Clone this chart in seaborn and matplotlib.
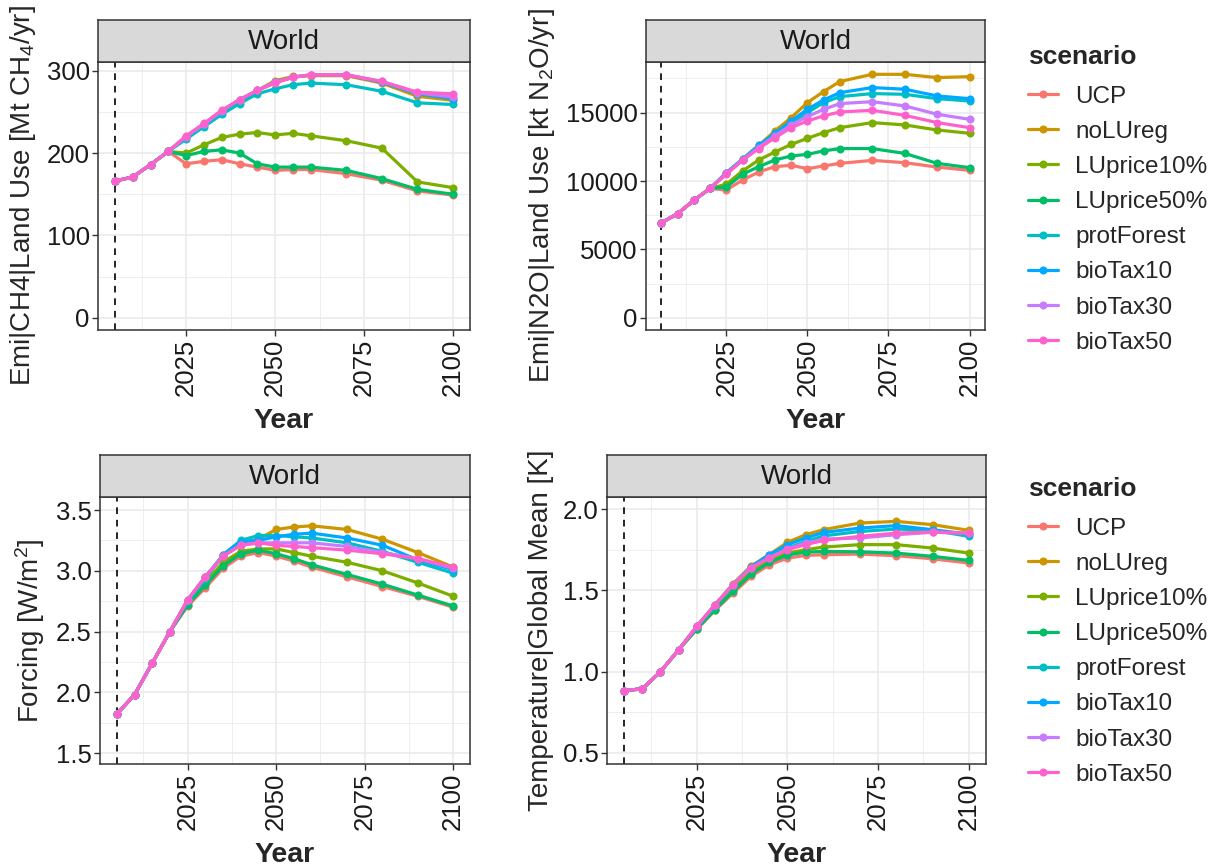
import matplotlib
matplotlib.use('Agg')
import matplotlib.pyplot as plt
import seaborn as sns
import pandas as pd
from matplotlib.lines import Line2D
from matplotlib.ticker import FixedLocator

# ---------------- data ----------------
years = [2005, 2010, 2015, 2020, 2025, 2030, 2035, 2040, 2045, 2050, 2055, 2060, 2070, 2080, 2090, 2100]
scenarios = ["UCP", "noLUreg", "LUprice10%", "LUprice50%", "protForest", "bioTax10", "bioTax30", "bioTax50"]
colors = ["#F8766D", "#CD9600", "#7CAE00", "#00BE67", "#00BFC4", "#00A9FF", "#C77CFF", "#FF61CC"]

ch4 = {
    "UCP":        [166, 171, 186, 202, 187, 190, 192, 187, 183, 179, 180, 180, 175, 167, 154, 149],
    "noLUreg":    [166, 171, 186, 202, 220, 235, 251, 264, 276, 288, 293, 294, 294, 285, 269, 264],
    "LUprice10%": [166, 171, 186, 202, 200, 210, 219, 223, 225, 222, 224, 221, 215, 206, 165, 158],
    "LUprice50%": [166, 171, 186, 202, 197, 202, 204, 200, 187, 183, 183, 183, 179, 169, 156, 150],
    "protForest": [166, 171, 186, 202, 217, 232, 247, 260, 272, 278, 283, 285, 283, 275, 261, 259],
    "bioTax10":   [166, 171, 186, 202, 220, 235, 251, 264, 276, 286, 292, 295, 295, 286, 272, 266],
    "bioTax30":   [166, 171, 186, 202, 220, 235, 251, 265, 276, 286, 292, 295, 295, 287, 273, 268],
    "bioTax50":   [166, 171, 186, 202, 221, 236, 252, 265, 276, 285, 292, 295, 295, 287, 274, 272],
}
n2o = {
    "UCP":        [6950, 7610, 8590, 9460, 9340, 10070, 10660, 11050, 11150, 10900, 11100, 11290, 11510, 11340, 11020, 10780],
    "noLUreg":    [6950, 7610, 8590, 9460, 10600, 11600, 12600, 13660, 14630, 15730, 16540, 17270, 17800, 17800, 17560, 17630],
    "LUprice10%": [6950, 7610, 8590, 9460, 9760, 10730, 11540, 12120, 12680, 13120, 13540, 13900, 14270, 14100, 13730, 13490],
    "LUprice50%": [6950, 7610, 8590, 9460, 9560, 10490, 11050, 11540, 11830, 11950, 12200, 12370, 12370, 12020, 11290, 10980],
    "protForest": [6950, 7610, 8590, 9460, 10550, 11550, 12500, 13400, 14270, 15000, 15730, 16170, 16390, 16340, 16020, 15850],
    "bioTax10":   [6950, 7610, 8590, 9460, 10600, 11600, 12600, 13490, 14390, 15240, 15930, 16460, 16830, 16710, 16220, 16020],
    "bioTax30":   [6950, 7610, 8590, 9460, 10550, 11550, 12450, 13300, 14100, 14710, 15240, 15660, 15800, 15490, 14880, 14510],
    "bioTax50":   [6950, 7610, 8590, 9460, 10490, 11510, 12370, 13170, 13900, 14390, 14760, 15050, 15170, 14800, 14270, 13900],
}
forcing = {
    "UCP":        [1.82, 1.98, 2.24, 2.50, 2.71, 2.86, 3.02, 3.12, 3.15, 3.12, 3.08, 3.03, 2.95, 2.87, 2.79, 2.70],
    "noLUreg":    [1.82, 1.98, 2.24, 2.50, 2.76, 2.95, 3.12, 3.23, 3.26, 3.34, 3.36, 3.37, 3.34, 3.26, 3.15, 3.03],
    "LUprice10%": [1.82, 1.98, 2.24, 2.50, 2.74, 2.90, 3.07, 3.16, 3.18, 3.18, 3.15, 3.12, 3.07, 3.00, 2.90, 2.79],
    "LUprice50%": [1.82, 1.98, 2.24, 2.50, 2.72, 2.88, 3.04, 3.14, 3.17, 3.14, 3.10, 3.05, 2.97, 2.89, 2.80, 2.71],
    "protForest": [1.82, 1.98, 2.24, 2.50, 2.75, 2.93, 3.13, 3.25, 3.29, 3.29, 3.28, 3.27, 3.23, 3.16, 3.07, 2.98],
    "bioTax10":   [1.82, 1.98, 2.24, 2.50, 2.76, 2.95, 3.13, 3.24, 3.25, 3.28, 3.30, 3.31, 3.27, 3.21, 3.09, 3.01],
    "bioTax30":   [1.82, 1.98, 2.24, 2.50, 2.76, 2.95, 3.12, 3.21, 3.23, 3.23, 3.23, 3.23, 3.20, 3.15, 3.10, 3.02],
    "bioTax50":   [1.82, 1.98, 2.24, 2.50, 2.76, 2.95, 3.12, 3.21, 3.23, 3.21, 3.20, 3.19, 3.17, 3.14, 3.10, 3.03],
}
temperature = {
    "UCP":        [0.884, 0.894, 1.00, 1.134, 1.260, 1.376, 1.483, 1.586, 1.657, 1.698, 1.715, 1.719, 1.723, 1.713, 1.694, 1.668],
    "noLUreg":    [0.884, 0.894, 1.00, 1.134, 1.280, 1.410, 1.540, 1.650, 1.720, 1.795, 1.842, 1.873, 1.914, 1.924, 1.904, 1.869],
    "LUprice10%": [0.884, 0.894, 1.00, 1.134, 1.265, 1.385, 1.508, 1.616, 1.688, 1.729, 1.750, 1.766, 1.781, 1.781, 1.760, 1.729],
    "LUprice50%": [0.884, 0.894, 1.00, 1.134, 1.263, 1.380, 1.493, 1.600, 1.672, 1.717, 1.735, 1.739, 1.737, 1.729, 1.709, 1.684],
    "protForest": [0.884, 0.894, 1.00, 1.134, 1.275, 1.405, 1.530, 1.640, 1.710, 1.760, 1.800, 1.835, 1.862, 1.877, 1.869, 1.832],
    "bioTax10":   [0.884, 0.894, 1.00, 1.134, 1.278, 1.410, 1.535, 1.645, 1.719, 1.781, 1.822, 1.856, 1.883, 1.898, 1.873, 1.846],
    "bioTax30":   [0.884, 0.894, 1.00, 1.134, 1.278, 1.410, 1.534, 1.640, 1.700, 1.755, 1.790, 1.815, 1.822, 1.842, 1.857, 1.852],
    "bioTax50":   [0.884, 0.894, 1.00, 1.134, 1.278, 1.411, 1.534, 1.637, 1.698, 1.750, 1.781, 1.807, 1.832, 1.852, 1.859, 1.852],
}

x_ticks = [2025, 2050, 2075, 2100]
x_minor = [2012.5, 2037.5, 2062.5, 2087.5]

# ---------------- style ----------------
sns.set_theme(style="white")
plt.rcParams['font.family'] = ['Liberation Sans', 'DejaVu Sans']
plt.rcParams['mathtext.fontset'] = 'custom'
plt.rcParams['mathtext.rm'] = 'Liberation Sans'
plt.rcParams['mathtext.it'] = 'Liberation Sans:italic'
plt.rcParams['mathtext.bf'] = 'Liberation Sans:bold'

palette = dict(zip(scenarios, colors))
W, H = 1216, 868
fig = plt.figure(figsize=(W / 100, H / 100), dpi=100)


def frac_rect(l, t, r, b):
    return [l / W, 1 - b / H, (r - l) / W, (b - t) / H]


def long_df(d):
    rows = []
    for s in scenarios:
        for y, v in zip(years, d[s]):
            rows.append((s, y, v))
    return pd.DataFrame(rows, columns=["scenario", "Year", "value"])


panels = [
    (ch4, "Emi|CH4|Land Use [Mt CH$_4$/yr]", (98, 62, 470, 330), (-14.8, 310.6),
     [0, 100, 200, 300], [50, 150, 250], None),
    (n2o, "Emi|N2O|Land Use [kt N$_2$O/yr]", (646, 62, 985, 330), (-890, 18700),
     [0, 5000, 10000, 15000], [2500, 7500, 12500, 17500], None),
    (forcing, "Forcing [W/m$^2$]", (100, 497, 470, 764), (1.41, 3.607),
     [1.5, 2.0, 2.5, 3.0, 3.5], [1.75, 2.25, 2.75, 3.25], ["1.5", "2.0", "2.5", "3.0", "3.5"]),
    (temperature, "Temperature|Global Mean [K]", (607, 497, 986, 764), (0.432, 2.074),
     [0.5, 1.0, 1.5, 2.0], [0.75, 1.25, 1.75], ["0.5", "1.0", "1.5", "2.0"]),
]

dark = "#333333"
for data, ylabel, (l, t, r, b), ylim, yt, ym, ytl in panels:
    ax = fig.add_axes(frac_rect(l, t, r, b))
    ax.set_facecolor("white")
    df = long_df(data)
    sns.lineplot(data=df, x="Year", y="value", hue="scenario", hue_order=scenarios,
                 palette=palette, marker="o", markersize=5.8, markeredgewidth=0,
                 linewidth=2.3, errorbar=None, legend=False, ax=ax, zorder=3)
    ax.axvline(2005, color="black", linestyle=(0, (4, 3.5)), linewidth=1.2, zorder=2)
    ax.set_xlim(2000.25, 2104.75)
    ax.set_ylim(*ylim)
    ax.xaxis.set_major_locator(FixedLocator(x_ticks))
    ax.xaxis.set_minor_locator(FixedLocator(x_minor))
    ax.yaxis.set_major_locator(FixedLocator(yt))
    ax.yaxis.set_minor_locator(FixedLocator(ym))
    if ytl is not None:
        ax.set_yticklabels(ytl)
    ax.set_xticklabels([str(v) for v in x_ticks], rotation=90)
    ax.grid(which="major", color="#EBEBEB", linewidth=1.2, zorder=0)
    ax.grid(which="minor", color="#EBEBEB", linewidth=0.6, zorder=0)
    ax.set_axisbelow(True)
    for sp in ax.spines.values():
        sp.set_color(dark)
        sp.set_linewidth(1.1)
    ax.tick_params(which="major", length=4, width=1.0, color=dark, labelsize=18.5,
                   labelcolor="#1A1A1A", pad=2, left=True, bottom=True)
    ax.tick_params(which="minor", length=0)
    ax.set_xlabel("Year", fontsize=20.5, fontweight="bold", labelpad=9)
    ax.set_ylabel(ylabel, fontsize=20, labelpad=6)
    # facet strip
    sax = fig.add_axes(frac_rect(l, t - 42, r, t))
    sax.set_facecolor("#D9D9D9")
    sax.set_xticks([])
    sax.set_yticks([])
    for sp in sax.spines.values():
        sp.set_color(dark)
        sp.set_linewidth(1.1)
    sax.text(0.5, 0.48, "World", ha="center", va="center", fontsize=20, color="#1A1A1A",
             transform=sax.transAxes)

handles = [Line2D([0], [0], color=c, linewidth=2.3, marker="o", markersize=5.8,
                  markeredgewidth=0) for c in colors]
for top in (45, 477):
    leg = fig.legend(handles, scenarios, title="scenario", loc="upper left",
                     bbox_to_anchor=(1028 / W, 1 - top / H), frameon=False,
                     fontsize=17.5, title_fontproperties={"weight": "bold", "size": 19},
                     labelspacing=0.54, handlelength=1.25, handletextpad=0.7,
                     borderpad=0, borderaxespad=0)
    leg._legend_box.align = "left"
    leg._legend_box.sep = 12

fig.savefig("out.png", dpi=100)
